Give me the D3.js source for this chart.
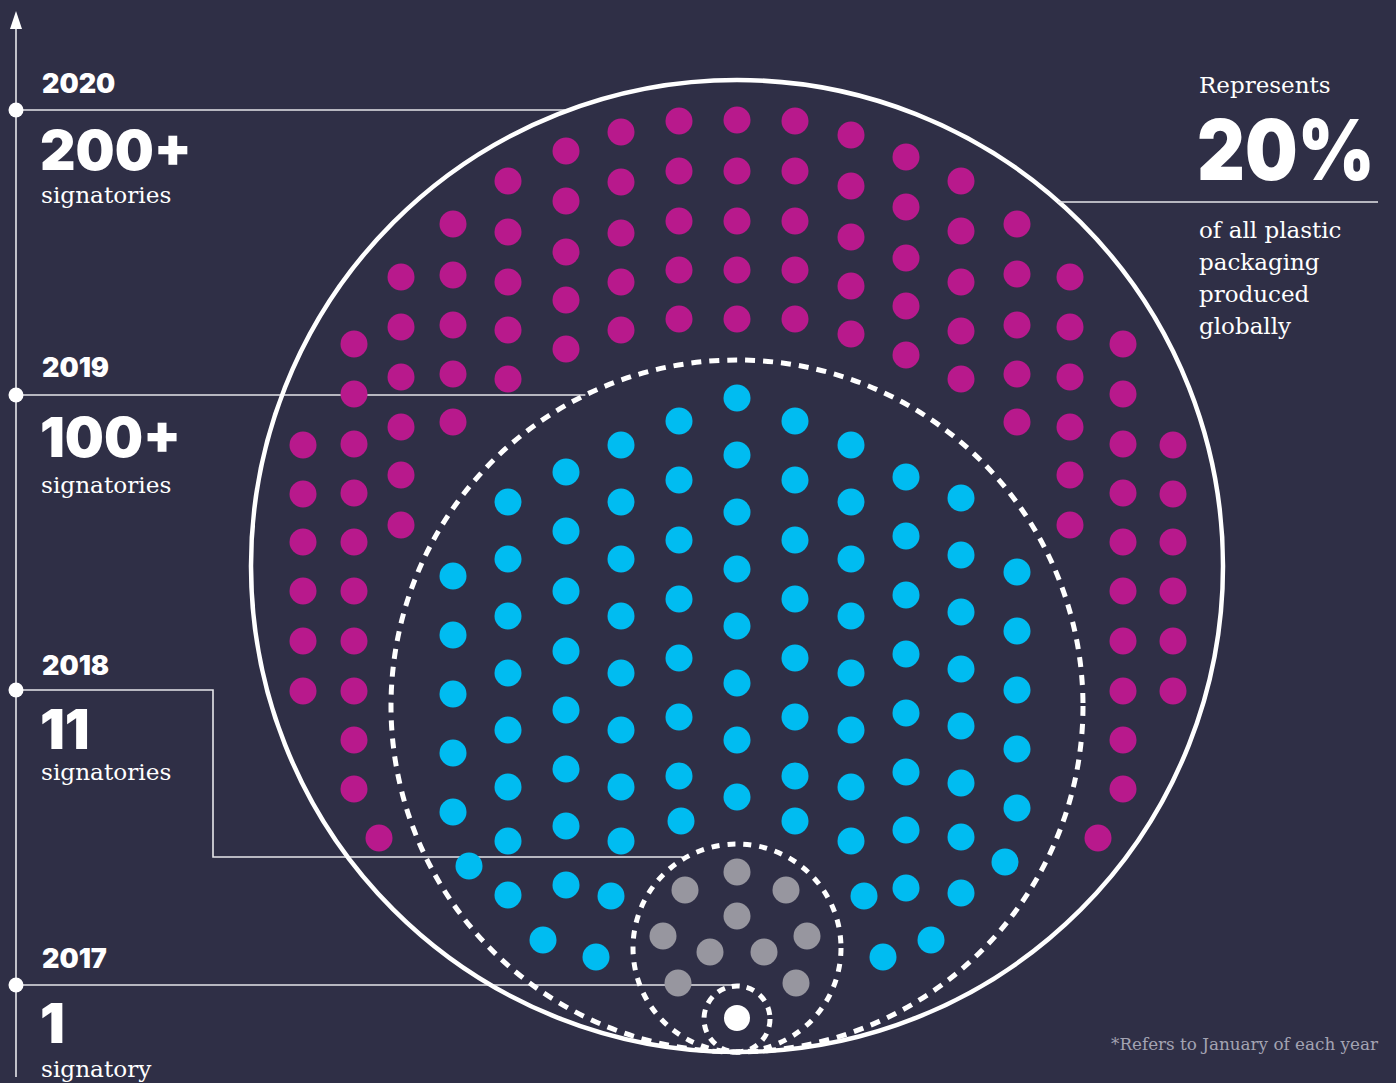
<!DOCTYPE html>
<html><head><meta charset="utf-8">
<script src="https://cdn.jsdelivr.net/npm/d3@7"></script>
<style>
html,body{margin:0;padding:0;background:#2f2f46;}
svg{display:block;}
</style></head>
<body>
<svg id="chart" width="1396" height="1083"></svg>
<script>
// ---------- DATA ----------
const years = ["2020", "2019", "2018", "2017"];
const counts = ["200+", "100+", "11", "1"];
const unitLabels = ["signatories", "signatories", "signatories", "signatory"];
const sideLabel = "Represents";
const sideValue = "20%";
const sideText = ["of all plastic", "packaging", "produced", "globally"];
const footnote = "*Refers to January of each year";

// dot positions in design units (origin = centre of the 2020 circle)
const magentaCols = [
  {x: -434, y: [-121, -72, -24, 25, 75, 125]},
  {x: -383, y: [-222, -172, -122, -73, -24, 25, 75, 125, 174, 223]},
  {x: -358, y: [272]},
  {x: -336, y: [-289, -239, -189, -139, -91, -41]},
  {x: -284, y: [-342, -291, -241, -192, -144]},
  {x: -229, y: [-385, -334, -284, -236, -187]},
  {x: -171, y: [-415, -365, -314, -266, -217]},
  {x: -116, y: [-434, -384, -333, -284, -236]},
  {x: -58,  y: [-445, -395, -345, -296, -247]},
  {x: 0,    y: [-446, -395, -345, -296, -247]},
  {x: 58,   y: [-445, -395, -345, -296, -247]},
  {x: 114,  y: [-431, -380, -329, -280, -232]},
  {x: 169,  y: [-409, -359, -308, -260, -211]},
  {x: 224,  y: [-385, -335, -284, -235, -187]},
  {x: 280,  y: [-342, -292, -241, -192, -144]},
  {x: 333,  y: [-289, -239, -189, -139, -91, -41]},
  {x: 386,  y: [-222, -172, -122, -73, -24, 25, 75, 125, 174, 223]},
  {x: 361,  y: [272]},
  {x: 436,  y: [-121, -72, -24, 25, 75, 125]}
];
const cyanCols = [
  {x: 0,    y: [-168, -111, -54, 3, 60, 117, 174, 231]},
  {x: -58,  y: [-145, -86, -26, 33, 92, 151, 210]},
  {x: -56,  y: [255]},
  {x: 58,   y: [-145, -86, -26, 33, 92, 151, 210, 255]},
  {x: -116, y: [-121, -64, -7, 50, 107, 164, 221, 275]},
  {x: 114,  y: [-121, -64, -7, 50, 107, 164, 221, 275]},
  {x: -171, y: [-94, -35, 25, 85, 144, 203, 260, 319]},
  {x: 169,  y: [-89, -30, 29, 88, 147, 206, 264, 322]},
  {x: -229, y: [-64, -7, 50, 107, 164, 221, 275, 329]},
  {x: 224,  y: [-68, -11, 46, 103, 160, 217, 271, 327]},
  {x: -284, y: [10, 69, 128, 187, 246]},
  {x: 280,  y: [6, 65, 124, 183, 242]},
  {x: -268, y: [300]},
  {x: 268,  y: [296]},
  {x: -126, y: [330]},
  {x: 127,  y: [330]},
  {x: -194, y: [374]},
  {x: -141, y: [391]},
  {x: 146,  y: [391]},
  {x: 194,  y: [374]}
];
const grayCols = [
  {x: 0,   y: [306, 350]},
  {x: -52, y: [324]},
  {x: 49,  y: [324]},
  {x: -74, y: [370]},
  {x: 70,  y: [370]},
  {x: -27, y: [386]},
  {x: 27,  y: [386]},
  {x: -59, y: [417]},
  {x: 59,  y: [417]}
];
const whiteCols = [{x: 0, y: [452]}];

// rings: centre offset and radius in design units
const ringCy = [0, 140, 382, 453];
const ringR  = [486, 346, 104, 33];

// ---------- LAYOUT ----------
const W = 1396, H = 1083;
const svg = d3.select("#chart");
const BG = "#2f2f46";
svg.append("rect").attr("width", W).attr("height", H).attr("fill", BG);

const cxPx = 737, cyPx = 566, Rpx = 486;
const x = d3.scaleLinear().domain([-486, 486]).range([cxPx - Rpx, cxPx + Rpx]);
const y = d3.scaleLinear().domain([-486, 486]).range([cyPx - Rpx, cyPx + Rpx]);
const rs = d3.scaleLinear().domain([0, 486]).range([0, Rpx]);

const heavy = "Inter, Lato, 'Open Sans', sans-serif";
const slab = "'DejaVu Serif', serif";
const lineCol = "#e6e6ea";

// timeline
const tlX = 16;
const markerY = [110, 395, 690, 985];
svg.append("line").attr("x1", tlX).attr("x2", tlX).attr("y1", 24).attr("y2", 1077)
  .attr("stroke", lineCol).attr("stroke-width", 1.6);
svg.append("path").attr("d", `M${tlX},11 L${tlX - 6},29 L${tlX + 6},29 Z`).attr("fill", "#fff");

function ringX(i, py) {
  const dy = y.invert(py) - ringCy[i];
  const r = ringR[i];
  return x(-Math.sqrt(Math.max(0, r * r - dy * dy)));
}

// connectors
const g = svg.append("g").attr("fill", "none").attr("stroke", lineCol).attr("stroke-width", 1.6);
g.append("line").attr("x1", tlX).attr("y1", markerY[0]).attr("x2", ringX(0, markerY[0]) - 4).attr("y2", markerY[0]);
g.append("line").attr("x1", tlX).attr("y1", markerY[1]).attr("x2", ringX(1, markerY[1])).attr("y2", markerY[1]);
const y18 = 857;
g.append("path").attr("d", `M${tlX},${markerY[2]} H213 V${y18} H${ringX(2, y18) - 4}`);
g.append("line").attr("x1", tlX).attr("y1", markerY[3]).attr("x2", 733).attr("y2", markerY[3]);

svg.selectAll("circle.marker").data(markerY).join("circle").attr("class", "marker")
  .attr("cx", tlX).attr("cy", d => d).attr("r", 7.5).attr("fill", "#fff");

// dots
function drawDots(cols, color, r) {
  const pts = cols.flatMap(c => c.y.map(v => ({x: c.x, y: v})));
  svg.append("g").selectAll("circle").data(pts).join("circle")
    .attr("cx", d => x(d.x)).attr("cy", d => y(d.y)).attr("r", rs(r)).attr("fill", color);
}
drawDots(magentaCols, "#b8198c", 13.5);
drawDots(cyanCols, "#00bcf1", 13.5);
drawDots(grayCols, "#97969f", 13.5);
drawDots(whiteCols, "#ffffff", 13);

// rings
const dash = [null, "10 8", "8 8", "8 7"];
const sw = [4.5, 5, 5, 5];
ringR.forEach((r, i) => {
  svg.append("circle").attr("cx", x(0)).attr("cy", y(ringCy[i])).attr("r", rs(r))
    .attr("fill", "none").attr("stroke", "#fff").attr("stroke-width", sw[i])
    .attr("stroke-dasharray", dash[i]);
});

// left labels
const yearBase = [93, 377, 675, 968];
const countBase = [170, 457, 749, 1043];
const unitBase = [203, 493, 780, 1077];
years.forEach((t, i) => {
  svg.append("text").attr("x", 42).attr("y", yearBase[i]).text(t)
    .attr("fill", "#fff").attr("font-family", heavy).attr("font-weight", 900).attr("font-size", 27);
  svg.append("text").attr("x", 40).attr("y", countBase[i]).text(counts[i])
    .attr("fill", "#fff").attr("font-family", heavy).attr("font-weight", 900).attr("font-size", 55);
  svg.append("text").attr("x", 41).attr("y", unitBase[i]).text(unitLabels[i])
    .attr("fill", "#fff").attr("font-family", slab).attr("font-size", 23.2);
});

// right labels
svg.append("text").attr("x", 1199).attr("y", 93).text(sideLabel)
  .attr("fill", "#fff").attr("font-family", slab).attr("font-size", 23);
const big = svg.append("text").attr("x", 1197).attr("y", 180).text(sideValue)
  .attr("fill", "#fff").attr("font-family", heavy).attr("font-weight", 900).attr("font-size", 84);
const bw = big.node().getComputedTextLength();
const sx = Math.min(1, 178 / bw);
big.attr("x", 0).attr("y", 0).attr("transform", `translate(1197,180) scale(${sx},1)`);
svg.append("line").attr("x1", 1058).attr("x2", 1378).attr("y1", 202).attr("y2", 202)
  .attr("stroke", lineCol).attr("stroke-width", 1.6);
sideText.forEach((t, i) => {
  svg.append("text").attr("x", 1199).attr("y", 238 + i * 32).text(t)
    .attr("fill", "#fff").attr("font-family", slab).attr("font-size", 23);
});
svg.append("text").attr("x", 1378).attr("y", 1050).attr("text-anchor", "end").text(footnote)
  .attr("fill", "#a3a3b2").attr("font-family", slab).attr("font-size", 16.8);
</script>
</body></html>
